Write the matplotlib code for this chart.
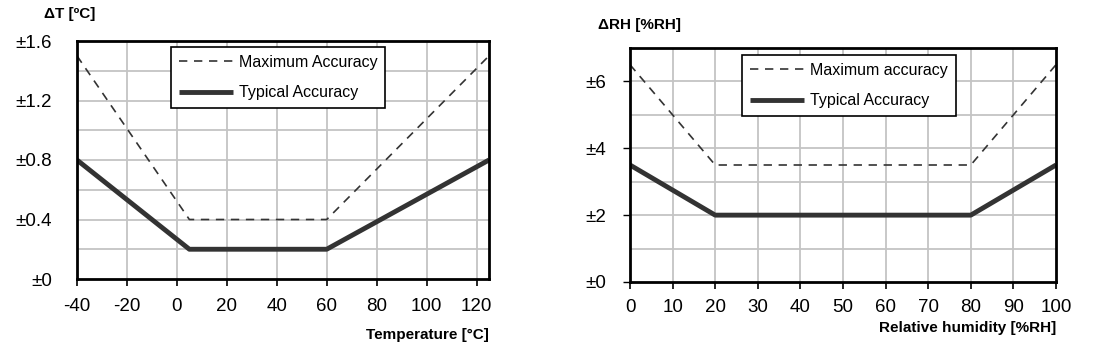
import matplotlib
matplotlib.use("Agg")
import matplotlib.pyplot as plt
from matplotlib.ticker import FixedLocator

plt.rcParams['font.family'] = ['Liberation Sans', 'DejaVu Sans']

# Temperature chart data
temp_x = [-40, 5, 60, 125]
temp_max = [1.5, 0.4, 0.4, 1.5]
temp_typ = [0.8, 0.2, 0.2, 0.8]
temp_xticks = [-40, -20, 0, 20, 40, 60, 80, 100, 120]
temp_yticks = [0, 0.4, 0.8, 1.2, 1.6]
temp_ylabels = ['±0', '±0.4', '±0.8', '±1.2', '±1.6']

# Humidity chart data
rh_x = [0, 20, 80, 100]
rh_max = [6.5, 3.5, 3.5, 6.5]
rh_typ = [3.5, 2.0, 2.0, 3.5]
rh_xticks = [0, 10, 20, 30, 40, 50, 60, 70, 80, 90, 100]
rh_yticks = [0, 2, 4, 6]
rh_ylabels = ['±0', '±2', '±4', '±6']

W, H = 1100, 350
fig = plt.figure(figsize=(W / 100, H / 100), dpi=100)

def px_axes(l, t, r, b):
    return fig.add_axes([l / W, 1 - b / H, (r - l) / W, (b - t) / H])

grid_color = '#c4c4c4'
line_color = '#333333'
tick_size = 13.5
leg_size = 11.5
title_size = 11

def style(ax, xlim, ylim, xticks, yticks, ylabels, xgrid, ygrid, ytick_len, ypad, xpad):
    ax.set_xlim(*xlim)
    ax.set_ylim(*ylim)
    ax.xaxis.set_major_locator(FixedLocator(xticks))
    ax.set_xticklabels([str(v) for v in xticks])
    ax.yaxis.set_major_locator(FixedLocator(yticks))
    ax.set_yticklabels(ylabels)
    for v in xgrid:
        ax.axvline(v, color=grid_color, lw=1.3, zorder=0)
    for v in ygrid:
        ax.axhline(v, color=grid_color, lw=1.3, zorder=0)
    for s in ax.spines.values():
        s.set_linewidth(2)
        s.set_color('black')
        s.set_zorder(5)
    ax.tick_params(axis='x', direction='out', length=5, width=1.2, pad=xpad, labelsize=tick_size)
    ax.tick_params(axis='y', direction='out', length=ytick_len, width=1.0, pad=ypad, labelsize=tick_size)

def legend(ax, x0, y0):
    leg = ax.legend(loc='upper left', bbox_to_anchor=(x0, y0), borderaxespad=0,
                    frameon=True, fancybox=False, edgecolor='black', framealpha=1,
                    fontsize=leg_size, handlelength=3.4, borderpad=0.5, labelspacing=0.95,
                    handletextpad=0.35)
    leg.get_frame().set_linewidth(1.2)
    return leg

# Left chart
ax1 = px_axes(77, 41, 489, 279)
ax1.plot(temp_x, temp_max, color=line_color, lw=1.2, ls=(0, (5, 4)), label='Maximum Accuracy', zorder=3)
ax1.plot(temp_x, temp_typ, color=line_color, lw=3.5, label='Typical Accuracy', zorder=3, solid_capstyle='butt')
style(ax1, (-40, 125), (0, 1.6), temp_xticks, temp_yticks, temp_ylabels,
      [-20, 0, 20, 40, 60, 80, 100, 120], [0.2, 0.4, 0.6, 0.8, 1.0, 1.2, 1.4], 0, 18, 9)
legend(ax1, (171 - 77) / 412, 1 - (47 - 41) / 238)
fig.text(44 / W, 1 - 14 / H, 'ΔT [ºC]', fontsize=title_size, fontweight='bold', va='center', ha='left')
fig.text(489 / W, 1 - 335 / H, 'Temperature [°C]', fontsize=title_size, fontweight='bold', va='center', ha='right')

# Right chart
ax2 = px_axes(630, 48, 1056, 282)
ax2.plot(rh_x, rh_max, color=line_color, lw=1.2, ls=(0, (5, 4)), label='Maximum accuracy', zorder=3)
ax2.plot(rh_x, rh_typ, color=line_color, lw=3.5, label='Typical Accuracy', zorder=3, solid_capstyle='butt')
style(ax2, (0, 100), (0, 7), rh_xticks, rh_yticks, rh_ylabels,
      [10, 20, 30, 40, 50, 60, 70, 80, 90], [1, 2, 3, 4, 5, 6], 5, 12, 7)
legend(ax2, (742 - 630) / 426, 1 - (55 - 48) / 234)
fig.text(598 / W, 1 - 25 / H, 'ΔRH [%RH]', fontsize=title_size, fontweight='bold', va='center', ha='left')
fig.text(1056 / W, 1 - 328 / H, 'Relative humidity [%RH]', fontsize=title_size, fontweight='bold', va='center', ha='right')

fig.savefig('out.png', dpi=100, facecolor='white')
